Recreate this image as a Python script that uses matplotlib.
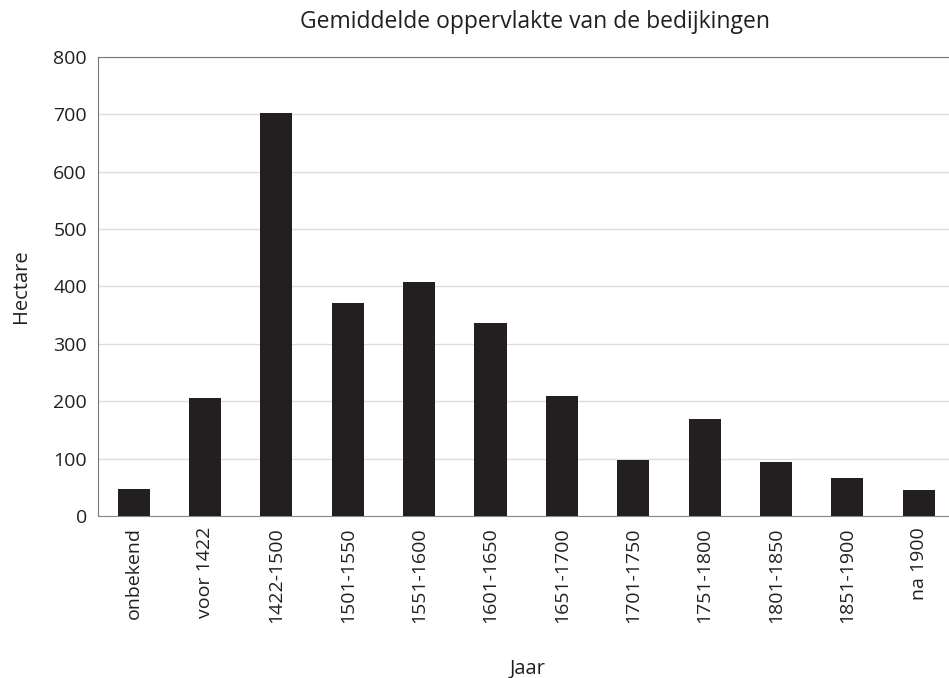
import matplotlib.pyplot as plt

# Gemiddelde oppervlakte van de bedijkingen per periode

periods = ['onbekend', 'voor 1422', '1422-1500', '1501-1550', '1551-1600',
           '1601-1650', '1651-1700', '1701-1750', '1751-1800', '1801-1850',
           '1851-1900', 'na 1900']
hectare = [47, 206, 703, 372, 408, 337, 209, 98, 169, 94, 66, 45]
y_ticks = [0, 100, 200, 300, 400, 500, 600, 700, 800]

plt.rcParams['font.family'] = ['Open Sans', 'DejaVu Sans']

fig = plt.figure(figsize=(9.49, 6.78), dpi=100)
ax = fig.add_axes([98 / 949, 1 - 516 / 678, 860 / 949, (516 - 57) / 678])

x = list(range(len(periods)))
ax.bar(x, hectare, width=0.45, color='#231f20', zorder=3)

ax.set_xlim(-0.5, 11.55)
ax.set_ylim(0, 800)
ax.set_yticks(y_ticks)
ax.set_yticklabels([str(v) for v in y_ticks], fontsize=14, color='#231f20')
ax.set_xticks(x)
ax.set_xticklabels(periods, rotation=90, fontsize=14, color='#231f20')
ax.tick_params(length=0, pad=8)

ax.grid(axis='y', color='#dcdcdc', linewidth=1, zorder=0)
for side in ['left', 'top']:
    ax.spines[side].set_color('#777777')
ax.spines['bottom'].set_color('#888888')
ax.spines['right'].set_visible(False)

ax.set_title('Gemiddelde oppervlakte van de bedijkingen', fontsize=16.5,
             color='#231f20', pad=21, x=0.5 + 7 / 860)
ax.set_ylabel('Hectare', fontsize=14.5, color='#231f20', labelpad=16)
ax.set_xlabel('Jaar', fontsize=14.5, color='#231f20', labelpad=26)

fig.savefig('out.png', dpi=100)
